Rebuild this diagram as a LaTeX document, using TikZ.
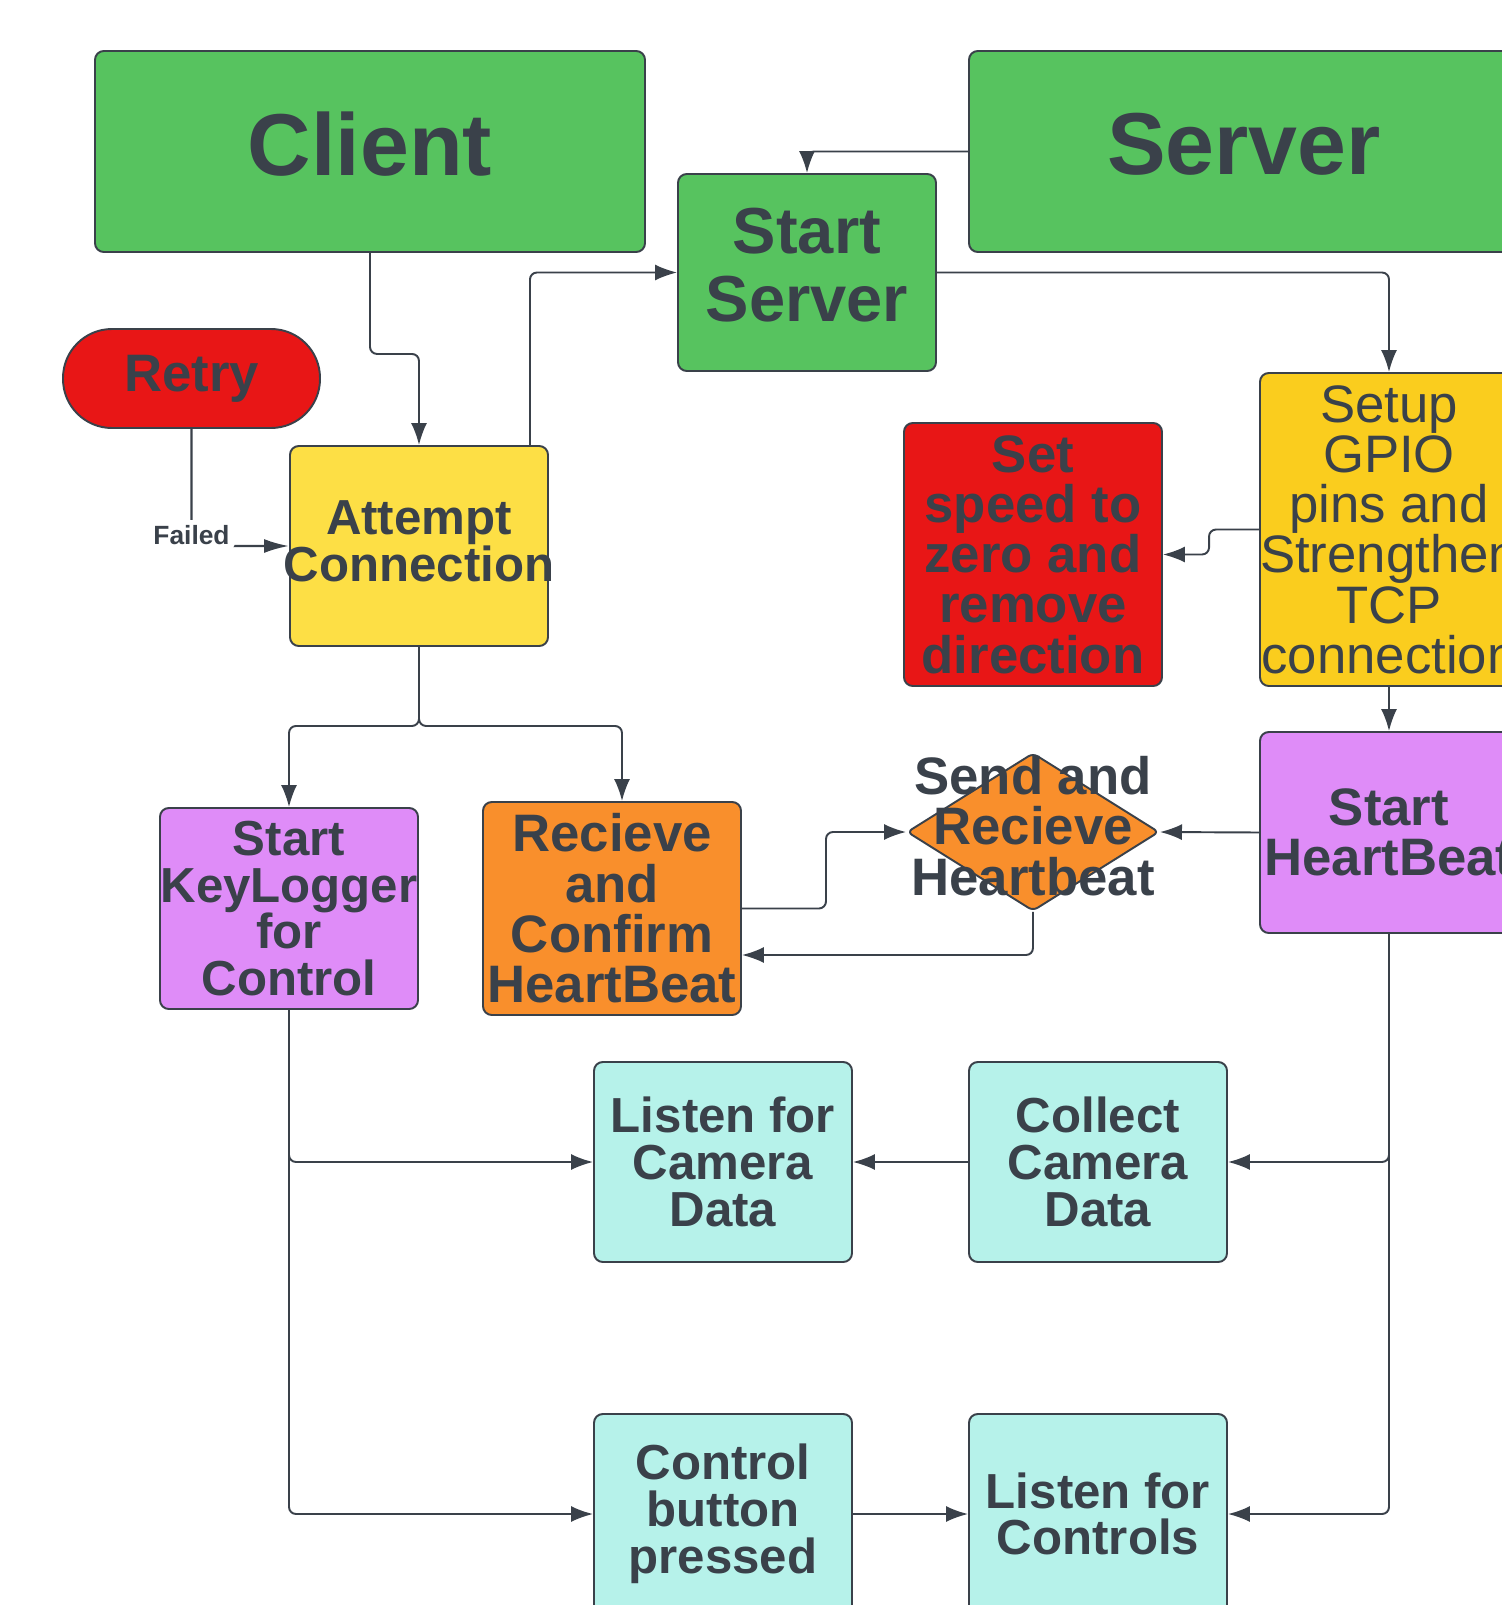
\documentclass[tikz,border=0pt]{standalone}
\usepackage{fontspec}
\setmainfont{Liberation Sans}
\usetikzlibrary{arrows.meta,shapes.geometric}

\definecolor{ink}{HTML}{3A414A}
\definecolor{lgreen}{HTML}{57C35F}
\definecolor{lred}{HTML}{E81616}
\definecolor{lyellow}{HTML}{FDDF45}
\definecolor{lgold}{HTML}{FACD1E}
\definecolor{lpurple}{HTML}{DF8CF8}
\definecolor{lorange}{HTML}{F98F2C}
\definecolor{lcyan}{HTML}{B6F2EA}

\begin{document}
\begin{tikzpicture}[line width=1.1pt,>={Latex[length=4.4mm,width=3.2mm]},
  box/.style={draw=ink,rounded corners=5pt,minimum width=5.16cm,minimum height=4cm,inner sep=0pt,align=center,text=ink},
  txt/.style={font=\bfseries\fontsize{28}{26.6}\selectfont},
  txtb/.style={font=\bfseries\fontsize{30}{28.6}\selectfont},
  link/.style={->,draw=ink,rounded corners=4pt}]
  \fill[white] (0,0) rectangle (30.02,-32.1);
  \useasboundingbox (0,0) rectangle (30.02,-32.1);
  % cabeceras cliente / servidor
  \node[box,fill=lgreen,minimum width=11cm,minimum height=4.02cm,text depth=0.32cm,font=\bfseries\fontsize{50}{50}\selectfont] (client) at (7.4,-3.03) {Client};
  \node[box,fill=lgreen,minimum width=11cm,minimum height=4.02cm,text depth=0.32cm,font=\bfseries\fontsize{50}{50}\selectfont] (server) at (24.88,-3.03) {Server};
  \node[box,fill=lgreen,minimum height=3.94cm,text depth=0.32cm,font=\bfseries\fontsize{37}{38.5}\selectfont] (startsrv) at (16.14,-5.45) {Start\\Server};
  % conexion
  \node[box,fill=lred,minimum width=5.14cm,minimum height=1.98cm,rounded corners=0.98cm,txtb] (retry) at (3.83,-7.57) {Retry};
  \node[box,fill=lyellow,txt,text depth=0.2cm] (attempt) at (8.38,-10.92) {Attempt\\\makebox[5cm]{Connection}};
  \node[box,fill=lgold,minimum height=6.26cm,font=\fontsize{30}{28.6}\selectfont] (setup) at (27.78,-10.59) {Setup\\GPIO\\pins and\\Strengthen\\TCP\\connection};
  \node[box,fill=lred,minimum height=5.26cm,txtb] (setspeed) at (20.66,-11.09) {Set\\speed to\\zero and\\remove\\direction};
  % heartbeat
  \node[box,fill=lpurple,minimum height=4.02cm,txtb] (starthb) at (27.78,-16.65) {Start\\HeartBeat};
  \node[diamond,draw=ink,fill=lorange,minimum width=5.04cm,minimum height=3.16cm,inner sep=0pt,rounded corners=3pt] (hb) at (20.66,-16.64) {};
  \node[txtb,text=ink,align=center] (hbtxt) at ([yshift=0.12cm]hb.center) {Send and\\Recieve\\Heartbeat};
  \node[box,fill=lorange,minimum height=4.26cm,txtb] (recieve) at (12.24,-18.17) {Recieve\\and\\Confirm\\HeartBeat};
  \node[box,fill=lpurple,minimum height=4.02cm,txt] (keylog) at (5.78,-18.17) {Start\\KeyLogger\\for\\Control};
  % camara y controles
  \node[box,fill=lcyan,txt] (listencam) at (14.46,-23.24) {Listen for\\Camera\\Data};
  \node[box,fill=lcyan,txt] (collect) at (21.96,-23.24) {Collect\\Camera\\Data};
  \node[box,fill=lcyan,txt] (ctrlbtn) at (14.46,-30.28) {Control\\button\\pressed};
  \node[box,fill=lcyan,txt] (listenctl) at (21.96,-30.28) {Listen for\\Controls};
  % flechas
  \draw[link] (server.west) -| (startsrv.north);
  \draw[link] (client.south) -- ++(0,-2.02) -| (attempt.north);
  \draw[link] ([xshift=-0.38cm]attempt.north east) |- (startsrv.west);
  \draw[link] (startsrv.east) -| (setup.north);
  \draw[draw=ink,rounded corners=4pt,line width=1.4pt,-{Latex[length=5mm,width=2.8mm]}] (retry.south) |- node[pos=0.5,fill=white,inner sep=3pt,yshift=0.22cm,text=ink,font=\bfseries\fontsize{15}{15}\selectfont] (failed) {Failed} (attempt.west);
  \draw[link] (attempt.south) -- ++(0,-1.58) -| (keylog.north);
  \draw[link] (attempt.south) -- ++(0,-1.58) -| ([xshift=0.2cm]recieve.north);
  \draw[link] (setup.west) -- ++(-1,0) |- (setspeed.east);
  \draw[link] (setup.south) -- (starthb.north);
  \draw[link] (starthb.west) -- (hb.east);
  \draw[link] (recieve.east) -- ++(1.68,0) |- (hb.west);
  \draw[link] (hb.south) |- ([yshift=-0.93cm]recieve.east);
  \draw[link] (keylog.south) |- (listencam.west);
  \draw[link] (keylog.south) |- (ctrlbtn.west);
  \draw[link] (starthb.south) |- (collect.east);
  \draw[link] (starthb.south) |- (listenctl.east);
  \draw[link] (collect.west) -- (listencam.east);
  \draw[link] (ctrlbtn.east) -- (listenctl.west);
\end{tikzpicture}
\end{document}
